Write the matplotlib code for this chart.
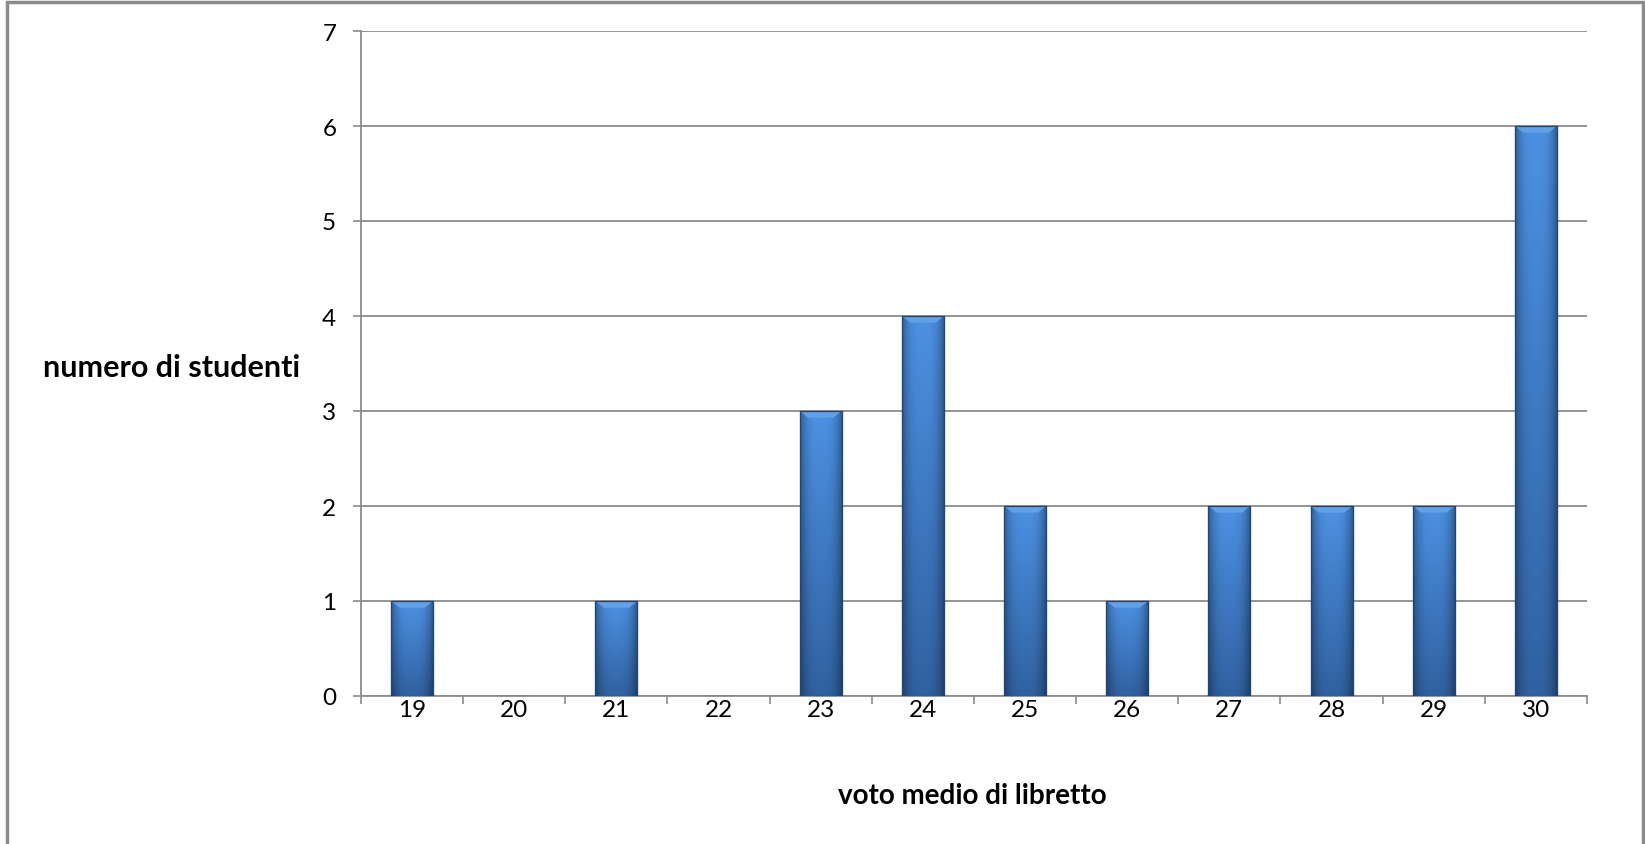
import numpy as np
import matplotlib
matplotlib.use("Agg")
import matplotlib.pyplot as plt
from matplotlib.patches import Rectangle

categories = ["19", "20", "21", "22", "23", "24", "25", "26", "27", "28", "29", "30"]
counts = [1, 0, 1, 0, 3, 4, 2, 1, 2, 2, 2, 6]
yticks = [0, 1, 2, 3, 4, 5, 6, 7]

plt.rcParams['font.family'] = ['Lato', 'DejaVu Sans']

W, H = 1645, 845
fig = plt.figure(figsize=(W / 100, H / 100), dpi=100)
L, R, T, B = 361, 1587, 32, 697
ax = fig.add_axes([L / W, 1 - B / H, (R - L) / W, (B - T) / H])

# outer border
fig.patches.append(Rectangle((7 / W, -0.01), (1643 - 7) / W, (845 - 3) / H + 0.01,
                             transform=fig.transFigure, fill=False,
                             edgecolor='#8c8c8c', linewidth=2.5, zorder=0))

x = np.arange(len(categories))
bw = 0.41
bars = ax.bar(x, counts, width=bw, color='#3a78c8', edgecolor='#1f4a80',
              linewidth=0.8, zorder=3)

# gradient overlay for bevel look
nx, ny = 60, 200
gx = np.linspace(-1, 1, nx)
hor = 1 - 0.35 * np.abs(gx) ** 3
for b, v in zip(bars, counts):
    if v <= 0:
        continue
    x0 = b.get_x()
    w = b.get_width()
    top = b.get_height()
    gy = np.linspace(0, 1, ny)[:, None]
    base_top = np.array([0.30, 0.57, 0.89])
    base_bot = np.array([0.19, 0.38, 0.63])
    col = base_bot + (base_top - base_bot) * gy[..., None]
    col = col * hor[None, :, None]
    col = np.clip(col, 0, 1)
    img = np.broadcast_to(col, (ny, nx, 3)).copy()
    im = ax.imshow(img, extent=(x0, x0 + w, 0, top), origin='lower',
                   aspect='auto', zorder=4, interpolation='bilinear')
    im.set_clip_path(b)
    bev = 0.07
    ax.fill([x0, x0 + w, x0 + w - w * 0.2, x0 + w * 0.2],
            [top, top, top - bev, top - bev], color='#62a0e8', zorder=5, lw=0)
    ax.add_patch(Rectangle((x0, 0), w, top, fill=False, edgecolor='#1e4678',
                           lw=0.9, zorder=6))

ax.set_xlim(-0.5, len(categories) - 0.5)
ax.set_ylim(0, 7)
ax.set_yticks(yticks)
ax.set_yticklabels([str(t) for t in yticks], fontsize=17.5)
ax.set_xticks(x)
ax.set_xticklabels(categories, fontsize=17.5)
ax.set_xticks(np.arange(len(categories) + 1) - 0.5, minor=True)
ax.tick_params(axis='x', which='major', length=0, pad=2)
ax.tick_params(axis='x', which='minor', length=5.8, color='#8c8c8c', width=1.2)
ax.tick_params(axis='y', length=5.8, color='#8c8c8c', width=1.2, pad=12)

ax.grid(axis='y', color='#8c8c8c', linewidth=1.3, zorder=0)
ax.set_axisbelow(True)
for s in ['top', 'right']:
    ax.spines[s].set_visible(False)
for s in ['left', 'bottom']:
    ax.spines[s].set_color('#8c8c8c')
    ax.spines[s].set_linewidth(1.3)

fig.text(172 / W, 1 - 368 / H, 'numero di studenti', ha='center', va='center',
         fontsize=22, fontweight='bold')
fig.text(972 / W, 1 - 796 / H, 'voto medio di libretto', ha='center', va='center',
         fontsize=20, fontweight='bold')

fig.savefig('out.png', dpi=100)
